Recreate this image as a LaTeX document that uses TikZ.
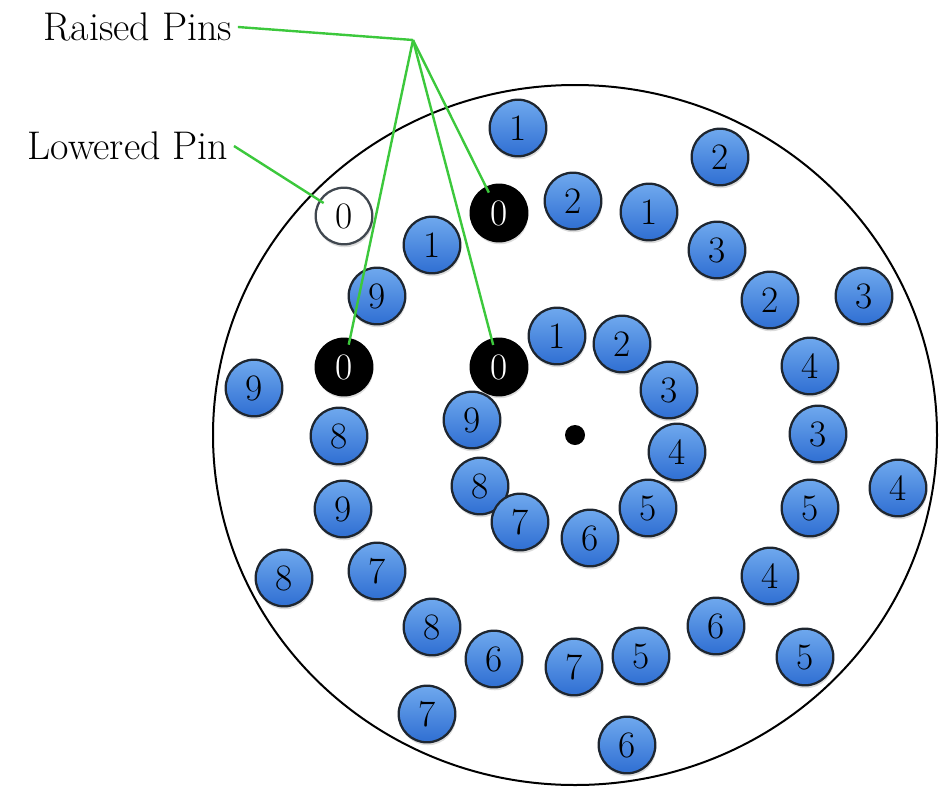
\documentclass[tikz,border=0pt]{standalone}
\usepackage{tikz}
\usetikzlibrary{shadows}
\definecolor{pinTop}{HTML}{6FA8EE}
\definecolor{pinBot}{HTML}{2F6FD2}
\definecolor{pinEdge}{HTML}{1E2630}
\definecolor{callGreen}{HTML}{3CC83C}

\begin{document}
\begin{tikzpicture}[x=0.75pt, y=-0.75pt,
    pinbase/.style={circle, minimum size=42.5pt, inner sep=0pt, line width=1.7pt,
                    font=\fontsize{28}{30}\selectfont,
                    drop shadow={opacity=0.28, shadow xshift=0.6pt, shadow yshift=-2.2pt}},
    pinblue/.style={pinbase, draw=pinEdge, top color=pinTop, bottom color=pinBot},
    pinraised/.style={pinbase, draw=black, fill=black, text=white},
    pinlowered/.style={pinbase, draw=pinEdge!85, fill=white},
    callout/.style={callGreen, line width=1.8pt},
    tag/.style={font=\fontsize{30}{34}\selectfont, inner sep=4pt}]
    \useasboundingbox (0,0) rectangle (946,789);
    % dial outline and hub
    \draw[line width=1.5pt] (575,435) ellipse [x radius=271.5pt, y radius=262.5pt];
    \fill (575,435) circle (7.5pt);
    % numbered pins
    \foreach \x/\y/\n [count=\k] in {518/128/1, 720/157/2, 573/201/2, 649/212/1,
        432/245/1, 717/250/3, 377/296/9, 770/300/2, 864/296/3, 557/336/1,
        622/344/2, 810/366/4, 254/388/9, 669/390/3, 472/420/9, 339/436/8,
        818/434/3, 677/452/4, 480/486/8, 898/488/4, 343/509/9, 648/508/5,
        810/508/5, 520/522/7, 590/538/6, 284/578/8, 377/571/7, 770/576/4,
        432/627/8, 716/626/6, 494/659/6, 574/667/7, 641/656/5, 805/657/5,
        427/714/7, 627/745/6}
      \node[pinblue] (b\k) at (\x,\y) {\n};
    \node[pinlowered] (low) at (344,216) {0};
    \node[pinraised] (up1) at (499,213) {0};
    \node[pinraised] (up2) at (344,367) {0};
    \node[pinraised] (up3) at (499,367) {0};
    % labels with callout lines
    \node[tag] (raisedlab) at (138,27) {Raised Pins};
    \node[tag] (loweredlab) at (128,146) {Lowered Pin};
    \coordinate (fork) at (413,40);
    \draw[callout] (raisedlab.east) -- (fork);
    \foreach \p in {up1,up2,up3}
      \draw[callout, shorten >=-5pt] (fork) -- (\p);
    \draw[callout, shorten >=-4pt] (loweredlab.east) -- (low);
\end{tikzpicture}
\end{document}
